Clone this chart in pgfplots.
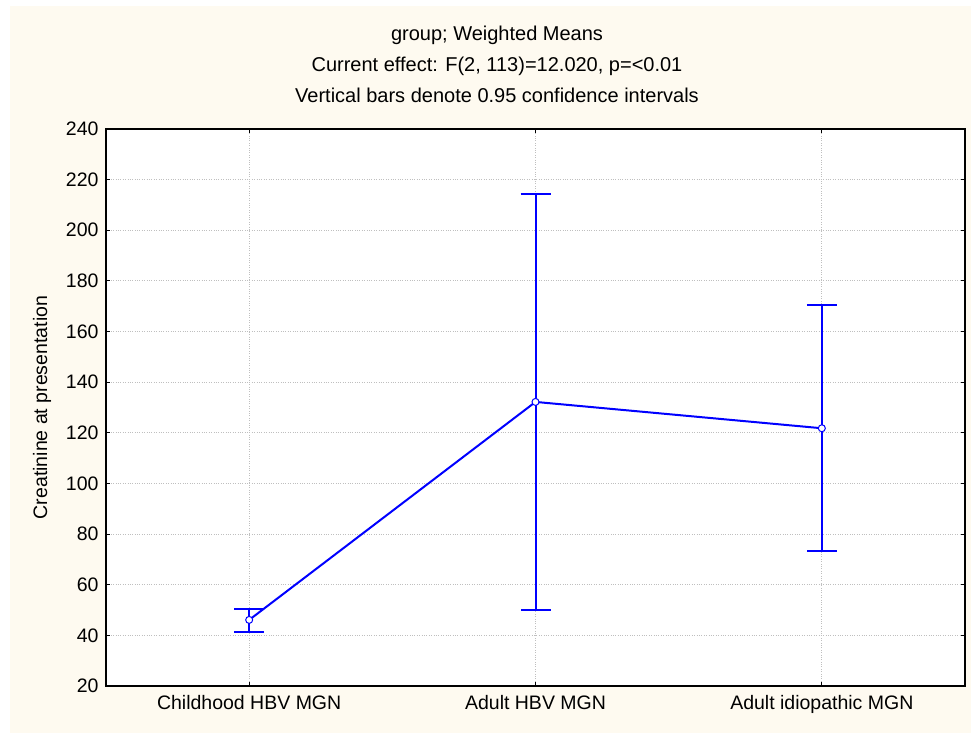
\documentclass[border=0pt]{standalone}
\usepackage{fontspec}
\setmainfont{Liberation Sans}
\usepackage{pgfplots}
\pgfplotsset{compat=1.18}
\definecolor{cream}{RGB}{254,250,240}
\begin{document}
\begin{tikzpicture}[x=1bp,y=1bp]
\fill[white] (0,0) rectangle (971,734);
\fill[cream] (10,1) rectangle (971,728);
\begin{axis}[
  at={(106bp,48bp)}, anchor=south west,
  scale only axis, width=859bp, height=557bp,
  xmin=-0.5, xmax=2.5, ymin=20, ymax=240,
  ytick={20,40,...,240},
  xtick={0,1,2},
  xticklabels={Childhood HBV MGN, Adult HBV MGN, Adult idiopathic MGN},
  tick align=inside, major tick length=4bp,
  tick style={black, line width=1bp},
  grid=major, major grid style={dotted, black!25, line width=1bp},
  axis line style={line width=1.6bp},
  axis background/.style={fill=white},
  tick label style={font=\fontsize{19.5bp}{23bp}\selectfont},
  /pgf/number format/assume math mode=true,
  yticklabel style={xshift=-4bp},
  xticklabel style={yshift=-6bp},
  ylabel={Creatinine at presentation},
  every axis y label/.style={at={(axis description cs:-0.0745,0.5)}, rotate=90, anchor=center, font=\fontsize{19.5bp}{23bp}\selectfont},
]
\addplot[blue, line width=2bp, mark=*, mark size=3.5bp,
  mark options={fill=white, draw=blue, solid, line width=1bp},
  error bars/.cd, y dir=both, y explicit, error mark=|,
  error bar style={line width=2bp, draw=blue, solid},
  error mark options={line width=2bp, mark size=15bp, draw=blue}]
coordinates {
  (0,46.1) += (0,4.2) -= (0,4.7)
  (1,132.2) += (0,82.1) -= (0,82.2)
  (2,121.8) += (0,48.7) -= (0,48.5)
};
\end{axis}
\node[anchor=base, font=\fontsize{20bp}{24bp}\selectfont] at (497,693) {group; Weighted Means};
\node[anchor=base, font=\fontsize{20bp}{24bp}\selectfont] at (497,662) {Current effect: F(2, 113)=12.020, p=<0.01};
\node[anchor=base, font=\fontsize{20bp}{24bp}\selectfont] at (497,631) {Vertical bars denote 0.95 confidence intervals};
\end{tikzpicture}
\end{document}
